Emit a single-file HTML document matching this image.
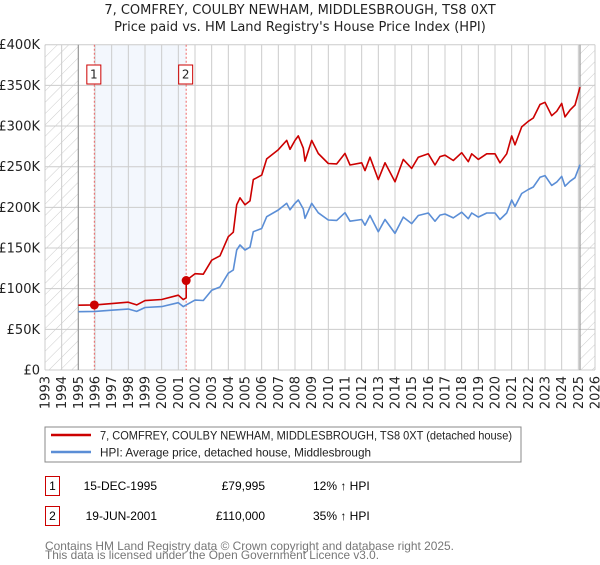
<!DOCTYPE html>
<html><head><meta charset="utf-8"><style>
body{margin:0;background:#fff;font-family:"Liberation Sans","DejaVu Sans",sans-serif;}
svg text{font-family:"DejaVu Sans","Liberation Sans",sans-serif;}
svg text.lib{font-family:"Liberation Sans","DejaVu Sans",sans-serif;}
</style></head><body>
<svg id="c" width="600" height="560" xmlns="http://www.w3.org/2000/svg">
<defs>
<pattern id="hatch" patternUnits="userSpaceOnUse" width="8" height="8" patternTransform="rotate(45)">
<line x1="0" y1="0" x2="0" y2="8" stroke="#ccc" stroke-width="1"/>
</pattern>
</defs>
<text x="300" y="14" text-anchor="middle" font-size="13" fill="#222">7, COMFREY, COULBY NEWHAM, MIDDLESBROUGH, TS8 0XT</text>
<text x="300" y="31" text-anchor="middle" font-size="13" fill="#222">Price paid vs. HM Land Registry's House Price Index (HPI)</text>
<g id="plot"></g>
<rect x="45" y="427" width="476" height="35" fill="#fff" stroke="#888"/>
<line x1="51" y1="435" x2="91" y2="435" stroke="#cc0000" stroke-width="2.5"/>
<text class="lib" x="100" y="439.5" font-size="12" fill="#222" textLength="412" lengthAdjust="spacingAndGlyphs">7, COMFREY, COULBY NEWHAM, MIDDLESBROUGH, TS8 0XT (detached house)</text>
<line x1="51" y1="452" x2="91" y2="452" stroke="#5b8ed6" stroke-width="2.5"/>
<text class="lib" x="100" y="456.5" font-size="12" fill="#222" textLength="271" lengthAdjust="spacingAndGlyphs">HPI: Average price, detached house, Middlesbrough</text>
<g>
<rect x="45.5" y="476.5" width="14" height="19" fill="#fff" stroke="#cc0000"/>
<text class="lib" x="52.5" y="490" text-anchor="middle" font-size="12">1</text>
<text class="lib" x="157" y="490" text-anchor="end" font-size="12">15-DEC-1995</text>
<text class="lib" x="265" y="490" text-anchor="end" font-size="12">£79,995</text>
<text class="lib" x="313" y="490" font-size="12">12% ↑ HPI</text>
</g>
<g>
<rect x="45.5" y="506.5" width="14" height="19" fill="#fff" stroke="#cc0000"/>
<text class="lib" x="52.5" y="520" text-anchor="middle" font-size="12">2</text>
<text class="lib" x="157" y="520" text-anchor="end" font-size="12">19-JUN-2001</text>
<text class="lib" x="265" y="520" text-anchor="end" font-size="12">£110,000</text>
<text class="lib" x="313" y="520" font-size="12">35% ↑ HPI</text>
</g>
<text class="lib" x="45" y="550" font-size="12" fill="#777" textLength="409" lengthAdjust="spacingAndGlyphs">Contains HM Land Registry data © Crown copyright and database right 2025.</text>
<text class="lib" x="45" y="559" font-size="12" fill="#777" textLength="334" lengthAdjust="spacingAndGlyphs">This data is licensed under the Open Government Licence v3.0.</text>
</svg>
<script>
const hpiYears=[1995.0,1996.0,1997.0,1998.0,1998.5,1999.0,2000.0,2001.0,2001.3,2002.0,2002.5,2003.0,2003.5,2004.0,2004.3,2004.5,2004.7,2005.0,2005.3,2005.5,2006.0,2006.3,2007.0,2007.5,2007.7,2008.0,2008.2,2008.5,2008.6,2009.0,2009.4,2010.0,2010.5,2011.0,2011.3,2012.0,2012.2,2012.5,2013.0,2013.4,2014.0,2014.5,2015.0,2015.4,2016.0,2016.4,2016.7,2017.0,2017.5,2018.0,2018.4,2018.6,2019.0,2019.5,2020.0,2020.3,2020.7,2021.0,2021.2,2021.6,2022.0,2022.3,2022.7,2023.0,2023.4,2023.7,2024.0,2024.2,2024.5,2024.8,2025.1];
const hpiValues=[71700,72000,73500,75000,72000,76800,78000,82800,77900,86000,85500,98000,102000,119000,123000,147500,153700,147500,151000,170000,174000,188500,196700,205000,197000,205000,209000,198000,186500,205000,193300,184400,184000,193400,183000,185000,178000,190000,170000,185000,168000,188000,180000,190000,193000,183000,190500,191800,187000,194000,186000,193000,188000,193000,193000,185000,193000,209000,201000,217000,222000,225000,237000,239000,227000,231000,238000,226000,232000,236500,252500];
const saleYears=[1995.96,2001.47];
const salePrices=[79995,110000];
const yTicks=[0,50000,100000,150000,200000,250000,300000,350000,400000];
const yTickLabels=["£0","£50K","£100K","£150K","£200K","£250K","£300K","£350K","£400K"];
const xTicks=[1993,1994,1995,1996,1997,1998,1999,2000,2001,2002,2003,2004,2005,2006,2007,2008,2009,2010,2011,2012,2013,2014,2015,2016,2017,2018,2019,2020,2021,2022,2023,2024,2025,2026];

const X0=45,X1=595,Y0=370,Y1=44.7,XMIN=1993,XMAX=2026,YMAX=400000;
const xs=t=>X0+(t-XMIN)/(XMAX-XMIN)*(X1-X0);
const ys=v=>Y0-v/YMAX*(Y0-Y1);
const NS="http://www.w3.org/2000/svg";
const plot=document.getElementById('plot');
function mk(tag,attrs,parent){const e=document.createElementNS(NS,tag);for(const k in attrs)e.setAttribute(k,attrs[k]);(parent||plot).appendChild(e);return e;}
function hpiAt(t){for(let i=0;i<hpiYears.length-1;i++){if(t>=hpiYears[i]&&t<=hpiYears[i+1]){const f=(t-hpiYears[i])/(hpiYears[i+1]-hpiYears[i]);return hpiValues[i]+f*(hpiValues[i+1]-hpiValues[i]);}}return hpiValues[hpiValues.length-1];}

let sh=mk('rect',{x:xs(saleYears[0]),y:Y1,width:xs(saleYears[1])-xs(saleYears[0]),height:Y0-Y1,fill:'#eef3fc',opacity:0.7});


let h1=mk('rect',{x:X0,y:Y1,width:xs(1995)-X0,height:Y0-Y1,fill:'url(#hatch)'});


let h2=mk('rect',{x:xs(2025.1),y:Y1,width:X1-xs(2025.1),height:Y0-Y1,fill:'url(#hatch)'});


xTicks.forEach((t,i)=>{
  let g=mk('line',{x1:xs(t),x2:xs(t),y1:Y1,y2:Y0,stroke:'#cccccc','stroke-width':1});
  
  
  let tx=mk('text',{x:0,y:0,'font-size':13,fill:'#222','text-anchor':'end',transform:`translate(${xs(t)+4.5},${Y0+6}) rotate(-90)`});
  tx.textContent=String(t);
  
  
});
yTicks.forEach((v,i)=>{
  let g=mk('line',{x1:X0,x2:X1,y1:ys(v),y2:ys(v),stroke:'#cccccc','stroke-width':1});
  
  
  let tx=mk('text',{x:40,y:ys(v)+4.5,'font-size':13,fill:'#222','text-anchor':'end'});
  tx.textContent=yTickLabels[i];
  
  
});
let b1=mk('line',{x1:xs(1995),x2:xs(1995),y1:Y1,y2:Y0,stroke:'#999','stroke-width':1.2});


let b2=mk('line',{x1:xs(2025.1),x2:xs(2025.1),y1:Y1,y2:Y0,stroke:'#999','stroke-width':1.2});


saleYears.forEach((t,i)=>{
  let l=mk('line',{x1:xs(t),x2:xs(t),y1:Y1,y2:Y0,stroke:'#ee6666','stroke-width':1,'stroke-dasharray':'2,2'});
  
  
  let r=mk('rect',{x:xs(t)-7.5,y:65,width:14,height:19,fill:'#fff',stroke:'#cc0000'});
  
  
  let tx=mk('text',{x:xs(t)-0.5,y:78.5,'font-size':12,'text-anchor':'middle',fill:'#222'});
  tx.textContent=String(i+1);
  
  
});
let dB=hpiYears.map((t,i)=>(i?'L':'M')+xs(t).toFixed(1)+','+ys(hpiValues[i]).toFixed(1)).join('');
let hl=mk('path',{d:dB,fill:'none',stroke:'#5b8ed6','stroke-width':1.6,'stroke-linejoin':'round'});


let pts=[];
hpiYears.forEach((t,i)=>{
  let k=t<saleYears[1]?0:1;
  pts.push([t,hpiValues[i]*salePrices[k]/hpiAt(saleYears[k])]);
});
let idx=pts.findIndex(p=>p[0]>saleYears[1]);
pts.splice(idx,0,[saleYears[1],hpiAt(saleYears[1])*salePrices[0]/hpiAt(saleYears[0])],[saleYears[1],salePrices[1]]);
let dR=pts.map((p,i)=>(i?'L':'M')+xs(p[0]).toFixed(1)+','+ys(p[1]).toFixed(1)).join('');
let pl=mk('path',{d:dR,fill:'none',stroke:'#cc0000','stroke-width':1.6,'stroke-linejoin':'round'});


saleYears.forEach((t,i)=>{
  let c=mk('circle',{cx:xs(t),cy:ys(salePrices[i]),r:4.5,fill:'#cc0000'});
  
  
});
</script>
</body></html>
